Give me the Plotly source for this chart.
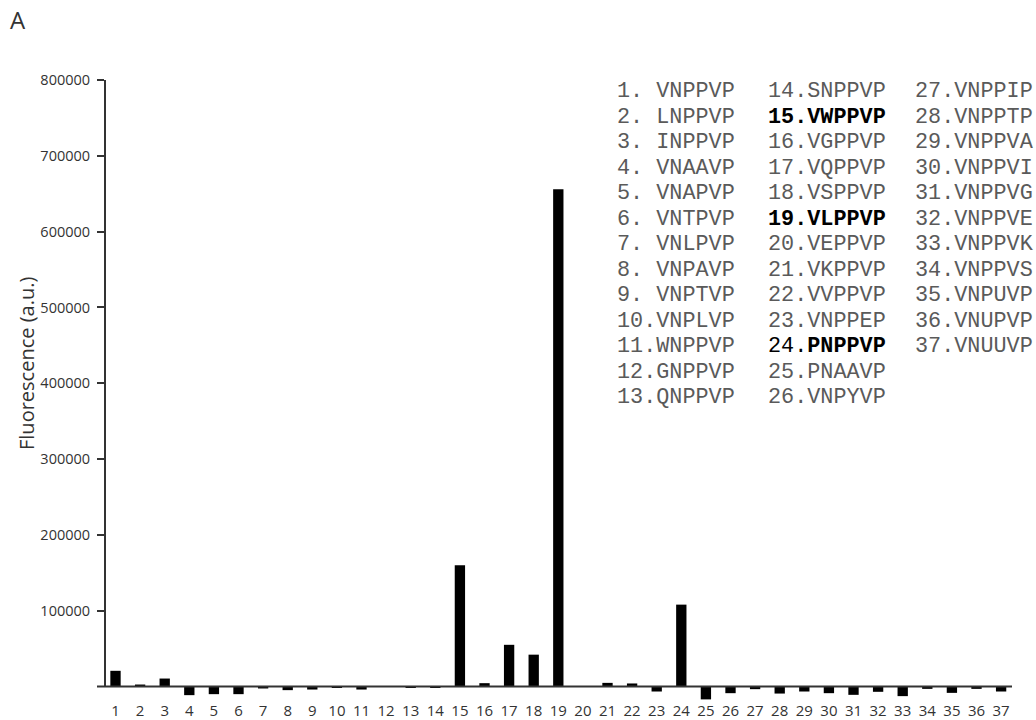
import plotly.graph_objects as go

positions = list(range(1, 38))
x_labels = [str(i) for i in positions]
fluorescence = [
    20700, 2600, 10500, -11400, -10100, -10100, -2600, -4800, -4000, -1800,
    -4000, -400, -1800, -900, 160000, 4400, 55000, 42000, 656000, 400,
    4800, 4000, -6600, 108000, -17000, -8800, -3500, -9300, -6600, -8800,
    -11000, -7000, -12700, -3100, -8400, -3100, -6600,
]
y_ticks = [100000, 200000, 300000, 400000, 500000, 600000, 700000, 800000]
y_tick_labels = [str(v) for v in y_ticks]

sequences = [
    "1. VNPPVP", "2. LNPPVP", "3. INPPVP", "4. VNAAVP", "5. VNAPVP",
    "6. VNTPVP", "7. VNLPVP", "8. VNPAVP", "9. VNPTVP", "10.VNPLVP",
    "11.WNPPVP", "12.GNPPVP", "13.QNPPVP", "14.SNPPVP", "<b>15.VWPPVP</b>",
    "16.VGPPVP", "17.VQPPVP", "18.VSPPVP", "<b>19.VLPPVP</b>", "20.VEPPVP",
    "21.VKPPVP", "22.VVPPVP", "23.VNPPEP", "24.<b>PNPPVP</b>", "25.PNAAVP",
    "26.VNPYVP", "27.VNPPIP", "28.VNPPTP", "29.VNPPVA", "30.VNPPVI",
    "31.VNPPVG", "32.VNPPVE", "33.VNPPVK", "34.VNPPVS", "35.VNPUVP",
    "36.VNUPVP", "37.VNUUVP",
]

W, H = 1036, 720
ML, MR, MT, MB = 105, 24, 80, 20
PW, PH = W - ML - MR, H - MT - MB

def px_to_paper(px, py):
    return (px - ML) / PW, (H - MB - py) / PH

fig = go.Figure()
fig.add_trace(go.Bar(
    x=positions, y=fluorescence, width=0.42,
    marker=dict(color="black", line=dict(width=0)),
    hoverinfo="x+y",
))

annotations = []
col_x = [615, 766, 913]
for i, s in enumerate(sequences):
    col, row = divmod(i, 13)
    ax, ay = px_to_paper(col_x[col], 91.7 + row * 25.5)
    color = "#000000" if "<b>" in s else "#5a5a5a"
    annotations.append(dict(
        text=s, x=ax, y=ay, xref="paper", yref="paper",
        xanchor="left", yanchor="middle", showarrow=False,
        font=dict(family="Liberation Mono, Courier New, monospace", size=21.8, color=color),
    ))

tx, ty = px_to_paper(27, 364)
annotations.append(dict(
    text="Fluorescence (a.u.)", x=tx, y=ty, xref="paper", yref="paper",
    xanchor="center", yanchor="middle", showarrow=False, textangle=-90,
    font=dict(family="Open Sans, sans-serif", size=20, color="#333333"),
))
axp, ayp = px_to_paper(8, 19.5)
annotations.append(dict(
    text="A", x=axp, y=ayp, xref="paper", yref="paper",
    xanchor="left", yanchor="middle", showarrow=False,
    font=dict(family="Open Sans, sans-serif", size=24, color="#333333"),
))

shapes = [
    dict(type="line", xref="paper", yref="y", x0=0, x1=0, y0=0, y1=800000,
         line=dict(color="#333333", width=2)),
    dict(type="line", xref="paper", yref="y", x0=-8 / PW, x1=1, y0=0, y1=0,
         line=dict(color="#333333", width=2)),
]

fig.update_layout(
    width=W, height=H,
    margin=dict(l=ML, r=MR, t=MT, b=MB, autoexpand=False),
    plot_bgcolor="white", paper_bgcolor="white",
    showlegend=False,
    annotations=annotations,
    shapes=shapes,
    xaxis=dict(
        range=[0.573, 37.443], tickmode="array", tickvals=positions, ticktext=x_labels,
        showgrid=False, zeroline=False, showline=False, ticks="",
        tickfont=dict(family="Open Sans, sans-serif", size=15, color="#333333"),
        automargin=False,
    ),
    yaxis=dict(
        range=[-17800, 800000], tickmode="array", tickvals=y_ticks, ticktext=y_tick_labels,
        showgrid=False, zeroline=False, showline=False,
        ticks="outside", ticklen=7, tickwidth=1.5, tickcolor="#333333",
        ticklabelstandoff=4,
        tickfont=dict(family="Open Sans, sans-serif", size=14.5, color="#333333"),
        automargin=False,
    ),
)

fig.write_html(
    "out.html",
    config={"displayModeBar": False},
    post_script="document.body.style.margin='0px';document.body.style.overflow='hidden';",
)
